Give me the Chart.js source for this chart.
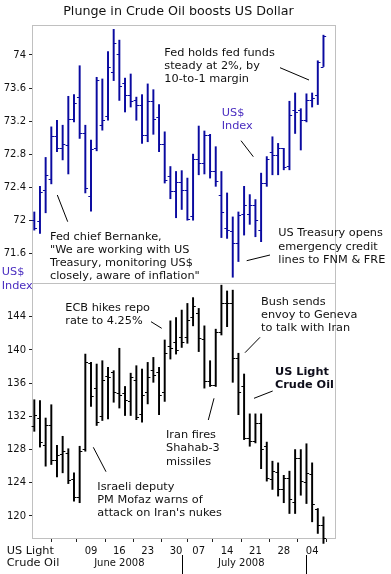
<!DOCTYPE html>
<html><head><meta charset="utf-8">
<script src="https://cdn.jsdelivr.net/npm/chart.js"></script>
<style>
html,body{margin:0;padding:0;background:#fff;}
#wrap{position:relative;width:391px;height:574px;overflow:hidden;}
canvas{position:absolute;left:0;top:0;}
</style>
</head><body>
<div id="wrap"><canvas id="c1" width="391" height="574"></canvas><canvas id="c2" width="391" height="574"></canvas></div>
<script>
// ---- categories (trading days, 2008) ----
const dates = ['05-23','05-27','05-28','05-29','05-30','06-02','06-03','06-04','06-05','06-06',
 '06-09','06-10','06-11','06-12','06-13','06-16','06-17','06-18','06-19','06-20',
 '06-23','06-24','06-25','06-26','06-27','06-30','07-01','07-02','07-03',
 '07-07','07-08','07-09','07-10','07-11','07-14','07-15','07-16','07-17','07-18',
 '07-21','07-22','07-23','07-24','07-25','07-28','07-29','07-30','07-31','08-01',
 '08-04','08-05','08-06'];

// ---- US$ Index OHLC ----
const usdOpen  = [72.00,71.99,72.37,72.50,73.02,72.88,72.91,73.23,73.49,73.06,72.29,72.87,73.15,73.26,73.79,74.01,73.66,73.52,73.46,73.40,73.03,73.44,73.25,72.92,72.54,72.35,72.46,72.36,72.05,72.74,72.69,73.03,72.59,72.30,71.91,71.87,71.73,72.08,72.08,72.18,71.88,72.45,72.83,72.79,72.87,72.66,73.33,73.33,73.21,73.46,73.52,73.86];
const usdHigh  = [72.10,72.41,72.76,73.13,73.21,73.15,73.50,73.52,73.87,73.15,72.97,73.73,73.71,74.04,74.31,74.18,73.72,73.77,73.49,73.52,73.65,73.58,73.40,73.07,72.65,72.59,72.60,72.51,72.80,73.14,73.08,73.04,72.89,72.59,72.33,72.04,72.10,72.41,72.31,72.25,72.57,72.77,73.01,72.93,72.87,73.44,73.54,73.35,73.53,73.54,73.93,74.24];
const usdLow   = [71.88,71.84,72.09,72.44,72.83,72.73,72.56,73.19,72.99,72.33,72.11,72.84,73.09,73.21,73.69,73.45,73.31,73.37,73.21,72.93,72.95,73.04,72.83,72.45,72.26,72.03,72.13,72.00,72.00,72.55,72.56,72.51,72.41,71.79,71.78,71.31,71.50,71.82,71.95,71.80,71.74,72.41,72.55,72.55,72.61,72.61,73.05,72.85,73.19,73.37,73.40,73.86];
const usdClose = [71.90,72.34,72.55,73.02,72.88,72.92,73.23,73.42,73.05,72.39,72.86,73.70,73.21,73.85,74.14,73.62,73.52,73.44,73.40,73.03,73.44,73.23,72.92,72.49,72.35,72.46,72.36,72.01,72.74,72.69,73.03,72.59,72.48,72.10,71.88,71.73,72.06,72.18,72.19,72.00,72.45,72.74,72.79,72.87,72.65,73.27,73.31,73.21,73.46,73.48,73.92,74.23];

// ---- US Light Crude Oil OHLC ----
const oilOpen  = [130.8,131.8,128.6,130.9,126.7,127.5,127.6,124.4,122.3,128.1,138.4,135.4,132.0,136.8,137.3,134.8,134.8,133.8,136.4,132.3,134.9,137.6,137.4,134.9,140.5,141.0,141.6,141.5,144.0,144.5,141.3,136.2,135.8,142.2,145.6,145.6,139.0,135.6,129.4,129.0,131.2,128.4,124.5,125.3,123.3,124.6,121.7,127.0,124.1,125.0,120.8,118.9];
const oilHigh  = [134.0,133.9,131.8,133.4,128.5,129.6,128.1,125.2,128.4,139.5,138.5,138.3,138.7,137.9,137.5,140.2,135.6,137.2,138.1,137.7,138.5,139.1,137.9,141.2,143.5,143.9,144.8,145.6,146.3,145.0,142.9,138.7,142.5,147.8,147.1,147.2,139.6,137.1,132.3,132.3,132.3,128.9,126.6,126.4,124.9,125.4,128.0,128.0,128.7,126.4,120.9,119.9];
const oilLow   = [130.2,128.3,126.0,126.2,124.7,125.2,123.9,121.8,121.6,127.8,133.2,130.9,131.5,131.7,133.7,133.0,132.1,132.1,131.6,131.3,133.5,136.1,132.2,133.8,138.9,139.5,140.3,140.8,142.9,139.8,135.4,135.6,135.6,141.8,142.8,136.1,132.2,129.2,128.4,128.8,125.7,124.2,123.2,122.4,121.6,120.3,120.3,122.5,121.5,119.3,117.9,116.7];
const oilClose = [132.2,128.9,131.0,126.7,127.4,127.8,124.3,122.3,127.8,138.5,134.4,131.3,136.4,136.7,134.9,134.6,134.0,136.7,131.9,134.6,136.7,137.0,134.6,139.6,140.2,140.0,141.0,143.6,145.3,141.4,136.3,135.8,142.2,145.6,145.6,139.0,134.9,129.4,129.0,131.2,128.1,124.6,125.4,123.3,124.6,122.1,127.0,124.2,125.2,121.4,118.9,117.3];

// ---- axis ticks ----
const usdTicks = [71.6,72,72.4,72.8,73.2,73.6,74];
const oilTicks = [120,124,128,132,136,140,144];
const tickDates  = ['05-27','06-02','06-09','06-16','06-23','06-30','07-07','07-14','07-21','07-28','08-04'];
const tickLabels = ['','','09','16','23','30','07','14','21','28','04'];
const monthNames = ['June 2008','July 2008'];
const monthFirst = ['06-02','07-01'];
const monthLast  = ['06-30','07-31'];
const monthBoundaries = ['07-01','08-01'];

const FONT = '"DejaVu Sans", sans-serif';
Chart.defaults.font.family = FONT;
Chart.defaults.color = '#111';
const idx = d => dates.indexOf(d);
const X_MIN = -0.406, X_MAX = 53.21;

function ohlcTicks(id, opens, closes, color){
  return {id, afterDatasetsDraw(chart){
    const {ctx, scales:{x, y}} = chart;
    ctx.save(); ctx.strokeStyle = color; ctx.lineWidth = 1; ctx.beginPath();
    opens.forEach((o,i)=>{
      const px = x.getPixelForValue(i);
      const yo = Math.round(y.getPixelForValue(o)) + 0.5;
      const yc = Math.round(y.getPixelForValue(closes[i])) + 0.5;
      ctx.moveTo(px-2.7, yo); ctx.lineTo(px, yo);
      ctx.moveTo(px, yc); ctx.lineTo(px+2.7, yc);
    });
    ctx.stroke(); ctx.restore();
  }};
}
const framePlugin = {id:'frame', beforeDatasetsDraw(chart){
  const a = chart.chartArea, ctx = chart.ctx;
  const l = Math.round(a.left), t = Math.round(a.top), r = Math.round(a.right), b = Math.round(a.bottom);
  ctx.save(); ctx.strokeStyle = '#c0c0c0'; ctx.lineWidth = 1;
  ctx.strokeRect(l+0.5, t+0.5, r-l-1, b-t-1); ctx.restore();
}};
function textPlugin(id, items, lines){
  return {id, afterDraw(chart){
    const ctx = chart.ctx; ctx.save();
    ctx.strokeStyle = '#000'; ctx.lineWidth = 1;
    lines.forEach(s=>{ ctx.beginPath(); ctx.moveTo(s[0],s[1]); ctx.lineTo(s[2],s[3]); ctx.stroke(); });
    ctx.textBaseline = 'middle';
    items.forEach(it=>{
      ctx.font = (it.bold?'bold ':'') + (it.size||11.3) + 'px ' + FONT;
      ctx.fillStyle = it.color || '#111';
      ctx.textAlign = it.align || 'left';
      it.lines.forEach((s,k)=>ctx.fillText(s, it.x, it.y + k*(it.lh||13)));
    });
    ctx.restore();
  }};
}
function yAxis(min, max, ticks, fmt){
  return {type:'linear', position:'left', min, max,
    afterBuildTicks: s => { s.ticks = ticks.map(v=>({value:v})); },
    afterFit: s => { s.width = 32; s.paddingTop = 0; s.paddingBottom = 0; },
    border:{display:false},
    grid:{drawOnChartArea:false, drawTicks:true, tickLength:3, color:'#222'},
    ticks:{padding:3, font:{size:10}, color:'#111', callback: fmt}};
}
const INDEX_BLUE = '#4a2dc0';

// ---- top chart: US$ Index ----
new Chart(document.getElementById('c1'), {
  type:'bar',
  data:{datasets:[{data: dates.map((d,i)=>({x:i, y:[usdLow[i], usdHigh[i]]})),
    backgroundColor:'#0a0aa0', borderWidth:0, barThickness:1.3, clip:false}]},
  options:{responsive:false, animation:false, events:[],
    layout:{padding:{top:25, right:55, bottom:290, left:0}},
    plugins:{legend:{display:false}, tooltip:{enabled:false}},
    scales:{
      x:{type:'linear', min:X_MIN, max:X_MAX, display:false, offset:false},
      y: yAxis(71.228, 74.363, usdTicks, v => String(Number(v.toFixed(1))))
    }},
  plugins:[framePlugin, ohlcTicks('usdTicks', usdOpen, usdClose, '#0a0aa0'),
    textPlugin('usdText', [
      {lines:['Plunge in Crude Oil boosts US Dollar'], x:178.5, y:11.5, size:12.7, align:'center'},
      {lines:['Fed holds fed funds','steady at 2%, by','10-to-1 margin'], x:164.3, y:53.3},
      {lines:['US$','Index'], x:221.7, y:113.3, color:INDEX_BLUE},
      {lines:['US Treasury opens','emergency credit','lines to FNM & FRE'], x:278.3, y:233.5, lh:13.2},
      {lines:['Fed chief Bernanke,','"We are working with US','Treasury, monitoring US$','closely, aware of inflation"'], x:50, y:237.3},
      {lines:['US$','Index'], x:1.7, y:272.3, lh:13.4, color:INDEX_BLUE}
    ], [[280,67.7,309,80],[241,140.7,253.3,156.7],[246.7,260.7,270,255],[57.3,195,67.7,221.7]])]
});

// ---- bottom chart: US Light Crude Oil ----
new Chart(document.getElementById('c2'), {
  type:'bar',
  data:{datasets:[{data: dates.map((d,i)=>({x:i, y:[oilLow[i], oilHigh[i]]})),
    backgroundColor:'#000', borderWidth:0, barThickness:1.3, clip:false}]},
  options:{responsive:false, animation:false, events:[],
    layout:{padding:{top:283, right:55, bottom:0, left:0}},
    plugins:{legend:{display:false}, tooltip:{enabled:false}},
    scales:{
      x:{type:'linear', min:X_MIN, max:X_MAX, offset:false,
        afterBuildTicks: s => { s.ticks = tickDates.map(d=>({value:idx(d)})); },
        afterFit: s => { s.height = 35; s.paddingLeft = 0; s.paddingRight = 0; },
        border:{display:false},
        grid:{drawOnChartArea:false, drawTicks:true, tickLength:3, color:'#222'},
        ticks:{autoSkip:false, maxRotation:0, minRotation:0, padding:3, font:{size:10}, color:'#111',
          callback:(v,i)=>tickLabels[i]}},
      y: yAxis(117.23, 148.06, oilTicks, v => String(v))
    }},
  plugins:[framePlugin, ohlcTicks('oilTicks', oilOpen, oilClose, '#000'),
    {id:'months', afterDraw(chart){
      const {ctx, scales:{x}} = chart; ctx.save();
      ctx.strokeStyle = '#000'; ctx.lineWidth = 1;
      monthBoundaries.forEach(d=>{ const px = Math.round(x.getPixelForValue(idx(d)))+0.5;
        ctx.beginPath(); ctx.moveTo(px,555); ctx.lineTo(px,574); ctx.stroke(); });
      ctx.font = '10px ' + FONT; ctx.fillStyle = '#111'; ctx.textAlign = 'center'; ctx.textBaseline = 'middle';
      monthNames.forEach((m,k)=>{ const c = (idx(monthFirst[k]) + idx(monthLast[k]))/2;
        ctx.fillText(m, x.getPixelForValue(c), 563); });
      ctx.restore();
    }},
    textPlugin('oilText', [
      {lines:['ECB hikes repo','rate to 4.25%'], x:65.3, y:308.3},
      {lines:['Bush sends','envoy to Geneva','to talk with Iran'], x:261, y:302.3},
      {lines:['US Light','Crude Oil'], x:275, y:372.3, bold:true, color:'#0d0d1a'},
      {lines:['Iran fires','Shahab-3','missiles'], x:166, y:435, lh:13.3},
      {lines:['Israeli deputy','PM Mofaz warns of',"attack on Iran's nukes"], x:97.3, y:486.7},
      {lines:['US Light','Crude Oil'], x:6.7, y:550.8, lh:12.5}
    ], [[151,321.7,161.7,328.3],[260,337.3,245,352.7],[272.7,391,254,398.3],[214,398.3,208.3,420],[93.3,447.3,106,471.7]])]
});
</script>
</body></html>
